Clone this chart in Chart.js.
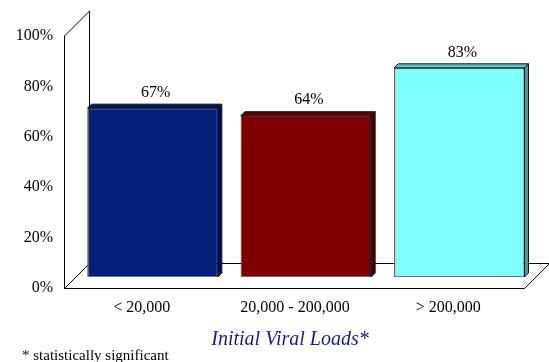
<!DOCTYPE html>
<html>
<head>
<meta charset="utf-8">
<title>Initial Viral Loads</title>
<script src="https://cdn.jsdelivr.net/npm/chart.js@4/dist/chart.umd.min.js"></script>
<style>
  html, body { margin: 0; padding: 0; background: #ffffff; }
  canvas { display: block; }
</style>
</head>
<body>
<canvas id="chart" width="549" height="362"></canvas>
<script>
// Categories and values
const categories = ['< 20,000', '20,000 - 200,000', '> 200,000'];
const responseRates = [67, 64, 83];
const yTicks = [0, 20, 40, 60, 80, 100];

// Face colours for the extruded bars
const frontColors = ['#00207c', '#800000', '#80ffff'];
const sideColors = ['#00124c', '#4a0000', '#3f9f9f'];
const topColors = ['#001660', '#5e0000', '#62c4c4'];

const SERIF = "'Liberation Serif', 'Times New Roman', serif";
const WALL_DEPTH = 25;   // depth of floor / back wall
const BAR_SHIFT = 11;    // bars sit halfway into the floor
const BAR_DEPTH = 4;     // thickness of each bar's side/top faces

const depthPlugin = {
  id: 'depth3d',
  beforeDatasetsDraw(chart) {
    const { ctx, chartArea: a } = chart;
    const L = a.left - 0.5, R = a.right - 0.5, T = a.top, B = a.bottom + 0.5;
    const D = WALL_DEPTH;
    ctx.save();
    ctx.strokeStyle = '#000000';
    ctx.lineWidth = 1;
    // floor
    ctx.fillStyle = '#ffffff';
    ctx.beginPath();
    ctx.moveTo(L, B);
    ctx.lineTo(R, B);
    ctx.lineTo(R + D, B - D);
    ctx.lineTo(L + D, B - D);
    ctx.closePath();
    ctx.fill();
    ctx.stroke();
    // left wall outline
    ctx.beginPath();
    ctx.moveTo(L, B);
    ctx.lineTo(L, T);
    ctx.lineTo(L + D, T - D);
    ctx.lineTo(L + D, B - D);
    ctx.stroke();
    ctx.restore();
    // bars are drawn halfway back into the floor
    ctx.save();
    ctx.translate(BAR_SHIFT, -BAR_SHIFT);
  },
  afterDatasetsDraw(chart) {
    const { ctx } = chart;
    const meta = chart.getDatasetMeta(0);
    const d = BAR_DEPTH;
    meta.data.forEach((bar, i) => {
      const p = bar.getProps(['x', 'y', 'base', 'width'], true);
      const left = p.x - p.width / 2, right = p.x + p.width / 2;
      const top = p.y, bottom = p.base;
      ctx.lineWidth = 1;
      ctx.strokeStyle = '#111111';
      // side face
      ctx.fillStyle = sideColors[i];
      ctx.beginPath();
      ctx.moveTo(right, top);
      ctx.lineTo(right + d, top - d);
      ctx.lineTo(right + d, bottom - d);
      ctx.lineTo(right, bottom);
      ctx.closePath();
      ctx.fill();
      ctx.stroke();
      // top face
      ctx.fillStyle = topColors[i];
      ctx.beginPath();
      ctx.moveTo(left, top);
      ctx.lineTo(left + d, top - d);
      ctx.lineTo(right + d, top - d);
      ctx.lineTo(right, top);
      ctx.closePath();
      ctx.fill();
      ctx.stroke();
      // lighter lower/left edges of the front face
      ctx.strokeStyle = '#6e6e6e';
      ctx.beginPath();
      ctx.moveTo(left + 0.5, top + 1);
      ctx.lineTo(left + 0.5, bottom - 0.5);
      ctx.lineTo(right - 0.5, bottom - 0.5);
      ctx.stroke();
    });
    ctx.restore();

    // value labels
    ctx.save();
    ctx.fillStyle = '#000000';
    ctx.font = '16px ' + SERIF;
    ctx.textAlign = 'center';
    ctx.textBaseline = 'middle';
    meta.data.forEach((bar, i) => {
      const p = bar.getProps(['x', 'y'], true);
      const v = chart.data.datasets[0].data[i];
      ctx.fillText(v + '%', p.x + BAR_SHIFT + 3, p.y - BAR_SHIFT - 15.5);
    });
    ctx.restore();
  },
  afterDraw(chart) {
    const { ctx } = chart;
    ctx.save();
    ctx.textBaseline = 'alphabetic';
    ctx.textAlign = 'center';
    ctx.fillStyle = '#1a1a96';
    ctx.font = 'italic 20px ' + SERIF;
    ctx.fillText('Initial Viral Loads*', 290, 345);
    ctx.textAlign = 'left';
    ctx.fillStyle = '#000000';
    ctx.font = '15px ' + SERIF;
    ctx.fillText('* statistically significant', 22, 360);
    ctx.restore();
  }
};

new Chart(document.getElementById('chart'), {
  type: 'bar',
  data: {
    labels: categories,
    datasets: [{
      data: responseRates,
      backgroundColor: frontColors,
      borderColor: '#111111',
      borderWidth: 1,
      borderSkipped: false,
      barPercentage: 0.85,
      categoryPercentage: 1.0
    }]
  },
  options: {
    responsive: false,
    animation: false,
    devicePixelRatio: 1,
    layout: { padding: { left: 0, top: 36, right: 24, bottom: 0 } },
    plugins: {
      legend: { display: false },
      tooltip: { enabled: false },
      title: { display: false }
    },
    scales: {
      y: {
        min: yTicks[0],
        max: yTicks[yTicks.length - 1],
        afterBuildTicks(scale) { scale.ticks = yTicks.map(v => ({ value: v })); },
        afterFit(scale) { scale.width = 65; },
        grid: { display: false, drawTicks: false },
        border: { display: false },
        ticks: {
          padding: 12,
          color: '#000000',
          font: { family: SERIF, size: 16 },
          callback: v => v + '%'
        }
      },
      x: {
        afterFit(scale) { scale.height = 74; },
        grid: { display: false, drawTicks: false },
        border: { display: false },
        ticks: {
          padding: 10,
          color: '#000000',
          maxRotation: 0,
          autoSkip: false,
          font: { family: SERIF, size: 16 }
        }
      }
    }
  },
  plugins: [depthPlugin]
});
</script>
</body>
</html>
